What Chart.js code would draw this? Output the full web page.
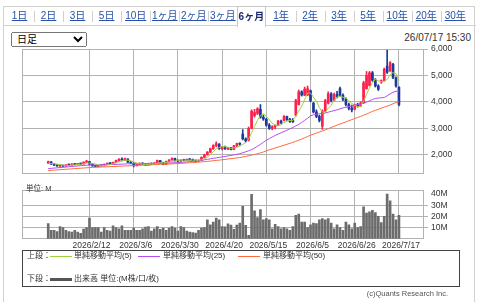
<!DOCTYPE html>
<html>
<head>
<meta charset="utf-8">
<script src="https://cdn.jsdelivr.net/npm/chart.js@4"></script>
<style>
body{margin:0;width:480px;height:302px;overflow:hidden;background:#fff;position:relative;
  font-family:"Liberation Sans",Arial,"Noto Sans CJK JP",sans-serif;color:#333}
.abs{position:absolute}
#frame{left:3px;top:6px;width:472px;height:310px;border:1px solid #d2d2d2;box-sizing:border-box}
#tabbar{left:3px;top:6px;width:473px;height:20px;border-bottom:1px solid #d2d2d2;box-sizing:border-box}
.tab{top:6px;height:20px;line-height:20px;text-align:center;font-size:10px;color:#2850a8;text-decoration:underline}
.tab.on{background:#fff;border:1px solid #c8c8c8;border-bottom:none;box-sizing:border-box;height:21px;
  font-weight:bold;color:#1a2a70;text-decoration:none;line-height:19px}
.sep{top:11px;width:1px;height:11px;background:#d0d0d0}
#sel{left:11px;top:32px;width:76px;height:15px;font-size:10px;padding:0 0 0 1px;margin:0;
  font-family:"Liberation Sans","Noto Sans CJK JP",sans-serif}
#stamp{right:9px;top:32px;font-size:10px;color:#333}
canvas{position:absolute;left:0}
#price{top:40px}
#vol{top:182px}
#unit{left:26px;top:184px;font-size:7.5px;color:#333;line-height:10px}
#legend{left:22px;top:250px;width:438px;height:37px;border:1px solid #444;box-sizing:border-box}
.lt{font-size:8px;line-height:10px;color:#333;white-space:nowrap}
.ll{height:1px}
#copy{right:32px;top:289px;font-size:7.5px;color:#555}
</style>
</head>
<body>
<div id="frame" class="abs"></div>
<div id="tabbar" class="abs"></div>
<select id="sel" class="abs"><option>日足</option></select>
<div id="stamp" class="abs">26/07/17 15:30</div>
<canvas id="price" width="480" height="142"></canvas>
<canvas id="vol" width="480" height="72"></canvas>
<div id="unit" class="abs">単位: M</div>
<div id="legend" class="abs"></div>
<div class="abs lt" style="left:27px;top:251px">上段：</div>
<div class="abs ll" style="left:50px;top:256px;width:22px;background:#9fd13b"></div>
<div class="abs lt" style="left:74px;top:251px">単純移動平均(5)</div>
<div class="abs ll" style="left:138px;top:256px;width:22px;background:#b44cf2"></div>
<div class="abs lt" style="left:163px;top:251px">単純移動平均(25)</div>
<div class="abs ll" style="left:238px;top:256px;width:22px;background:#ff6a3c"></div>
<div class="abs lt" style="left:263px;top:251px">単純移動平均(50)</div>
<div class="abs lt" style="left:27px;top:274px">下段：</div>
<div class="abs" style="left:50px;top:278px;width:22px;height:3px;background:#555"></div>
<div class="abs lt" style="left:74px;top:274px">出来高 単位:(M株/口/枚)</div>
<div id="copy" class="abs">(c)Quants Research Inc.</div>
<script>
// period tabs
var tabNames = ['1日','2日','3日','5日','10日','1ヶ月','2ヶ月','3ヶ月','6ヶ月','1年','2年','3年','5年','10年','20年','30年'];
var activeTab = 8;

// daily candles, oldest first (last = 2026/7/17)
var opens = [1690,1730,1650,1610,1580,1600,1570,1620,1610,1650,
  1630,1660,1650,1720,1740,1640,1580,1560,1590,1580,
  1640,1680,1660,1710,1780,1830,1800,1840,1720,1680,
  1590,1620,1680,1640,1610,1670,1640,1690,1780,1700,
  1640,1740,1800,1860,1780,1760,1800,1790,1820,1810,
  1780,1760,1790,1900,2000,2100,2230,2350,2400,2230,
  2290,2220,2260,2200,2340,2420,2780,2600,2550,3000,
  3480,3560,3720,3420,3340,3120,3000,3060,3120,3270,
  3300,3440,3340,3300,3500,3900,4380,4250,4260,4420,
  3950,3620,3450,3080,3650,3950,4300,4060,4280,4500,
  4250,4100,3900,3760,3720,3880,3850,3960,4500,4620,
  5100,4820,4600,4750,4800,5350,5170,5420,4900,4550];
var highs = [1760,1740,1670,1640,1620,1610,1630,1650,1660,1660,
  1670,1680,1730,1790,1750,1660,1600,1600,1620,1650,
  1690,1700,1720,1800,1850,1880,1870,1850,1740,1700,
  1640,1690,1700,1660,1680,1690,1700,1800,1790,1720,
  1760,1820,1880,1870,1800,1810,1830,1840,1850,1840,
  1800,1800,1920,2020,2120,2250,2380,2490,2420,2310,
  2330,2280,2280,2360,2440,2450,2950,2640,3050,3700,
  3720,3780,3900,3500,3380,3180,3100,3120,3300,3310,
  3480,3460,3380,3370,4100,4450,4420,4560,4600,4450,
  3980,3700,3500,3700,4100,4380,4350,4330,4400,4560,
  4300,4150,3950,3880,3920,3950,4000,4780,5150,5150,
  5150,4880,4650,4830,5280,5960,5520,5460,4950,4580];
var lows = [1660,1630,1590,1560,1550,1550,1560,1600,1600,1610,
  1620,1630,1640,1700,1620,1560,1540,1540,1570,1570,
  1630,1640,1650,1700,1760,1790,1780,1700,1660,1540,
  1570,1610,1620,1590,1600,1620,1630,1680,1680,1620,
  1630,1720,1790,1760,1740,1750,1770,1780,1790,1760,
  1730,1740,1780,1880,1980,2080,2200,2300,2200,2180,
  2200,2190,2180,2190,2300,2360,2560,2480,2520,2980,
  3420,3520,3380,3300,3080,2960,2940,2980,3100,3180,
  3280,3300,3220,3220,3460,3880,4220,4230,4230,4000,
  3580,3400,3240,2960,3620,3920,4000,4040,4150,4200,
  4050,3850,3700,3620,3700,3800,3820,3940,4480,4600,
  4780,4560,4430,4700,4780,5080,5150,4880,4560,3850];
var closes = [1740,1650,1610,1580,1600,1570,1620,1610,1650,1630,
  1660,1650,1720,1760,1640,1580,1560,1590,1580,1640,
  1680,1660,1710,1780,1830,1800,1850,1720,1680,1590,
  1620,1680,1640,1610,1670,1640,1690,1780,1700,1640,
  1740,1800,1860,1780,1760,1800,1790,1820,1810,1780,
  1760,1790,1900,2000,2100,2230,2350,2420,2230,2290,
  2220,2260,2200,2340,2420,2400,2600,2520,3000,3650,
  3600,3740,3420,3350,3120,3000,3060,3100,3270,3200,
  3450,3330,3260,3240,4050,4380,4260,4480,4500,4050,
  3620,3450,3300,3650,4050,4300,4050,4280,4200,4250,
  4100,3900,3760,3700,3880,3850,3960,4720,5000,5100,
  4820,4600,4480,4800,5230,5120,5480,4920,4600,3900];

// moving averages as drawn
var ma5 = [1680,1670,1660,1640,1636,1602,1596,1596,1610,1616,
  1634,1640,1662,1684,1686,1670,1652,1626,1590,1590,
  1610,1630,1654,1694,1732,1756,1794,1796,1776,1728,
  1692,1658,1642,1628,1644,1648,1650,1678,1696,1690,
  1710,1732,1748,1764,1788,1800,1798,1790,1796,1800,
  1792,1792,1808,1846,1910,2004,2116,2220,2266,2304,
  2302,2284,2240,2262,2288,2324,2392,2456,2588,2834,
  3074,3302,3482,3552,3446,3326,3190,3126,3110,3126,
  3216,3270,3302,3296,3466,3652,3838,4082,4334,4334,
  4182,4020,3784,3614,3614,3750,3870,4066,4176,4216,
  4176,4146,4042,3942,3868,3818,3830,4022,4282,4526,
  4720,4848,4800,4760,4786,4846,5022,5110,5070,4804];
var ma25 = [1475,1485,1495,1505,1515,1525,1535,1545,1555,1565,
  1575,1585,1595,1600,1610,1612,1615,1618,1620,1622,
  1625,1628,1632,1636,1640,1645,1650,1655,1658,1660,
  1662,1664,1666,1668,1670,1672,1674,1676,1678,1682,
  1685,1688,1692,1696,1700,1710,1720,1730,1742,1754,
  1766,1778,1790,1808,1826,1845,1864,1882,1900,1918,
  1936,1955,1975,1995,2015,2040,2075,2110,2150,2195,
  2250,2320,2390,2470,2550,2610,2670,2730,2780,2830,
  2880,2930,2980,3030,3090,3150,3220,3300,3380,3470,
  3510,3530,3550,3565,3580,3610,3640,3670,3700,3735,
  3770,3795,3820,3845,3870,3890,3920,3955,3990,4040,
  4090,4130,4145,4155,4165,4230,4300,4360,4400,4410];
var ma50 = [1400,1410,1418,1426,1434,1442,1450,1458,1466,1474,
  1482,1490,1498,1506,1514,1520,1525,1530,1535,1540,
  1545,1550,1555,1560,1565,1570,1575,1580,1585,1590,
  1595,1600,1605,1610,1615,1620,1625,1630,1635,1640,
  1645,1650,1655,1660,1665,1672,1680,1688,1696,1704,
  1712,1720,1730,1740,1750,1760,1772,1784,1796,1810,
  1824,1838,1852,1866,1880,1895,1915,1935,1960,1985,
  2010,2040,2070,2105,2150,2185,2220,2255,2290,2325,
  2360,2395,2430,2470,2510,2550,2590,2640,2690,2740,
  2780,2820,2860,2900,2940,2985,3030,3075,3120,3160,
  3200,3240,3285,3330,3370,3410,3450,3495,3540,3590,
  3640,3680,3720,3760,3800,3840,3880,3930,3970,4010];

// volume, millions
var volumes = [13.5,7.5,7.5,6.5,11,10,7.5,6.5,6,7.5,
  6,4.8,8.6,10,18.5,10,10,10,6,10,
  7.5,7,11.6,10,9,11.6,7.5,7.5,7.5,9.6,
  7.5,7.5,9,10.5,11,7,9,11,8.5,9.6,
  7.5,9.6,11,9.6,7,11,10,7,6,5.5,
  5,7.5,9.6,10,17,12.5,15,18.5,17,11,
  10.8,13.4,12.3,8.5,12.3,14,29,12,3,39.7,
  25,19,26,17,18,17,9,13,11,9,
  10,9,7.5,11,21,22,15,15,10,12.5,
  14,13.5,17,18,17,18,14,9,12.5,10,
  7.5,15,12.5,9,14,10,11,28.5,23,24,
  25.5,23.5,20,14.5,20,40,34,22,17,21];

// axes
var tickIdx = [14,29,44,59,74,89,104,119];
var tickLabels = ['2026/2/12','2026/3/6','2026/3/30','2026/4/20','2026/5/15','2026/6/5','2026/6/26','2026/7/17'];
var priceTicks = [2000,3000,4000,5000,6000];
var volTicks = [10,20,30,40];

// build tabs
tabNames.forEach(function (name, k) {
    var left = 5 + k * 29.05;
    var d = document.createElement('div');
    d.className = 'abs tab' + (k === activeTab ? ' on' : '');
    d.style.left = (k === activeTab ? left - 0.5 : left) + 'px';
    d.style.width = '29px';
    d.textContent = name;
    document.body.appendChild(d);
    if (k > 0 && k !== activeTab && k !== activeTab + 1) {
        var s = document.createElement('div');
        s.className = 'abs sep';
        s.style.left = Math.round(left) + 'px';
        document.body.appendChild(s);
    }
});

var FONT = '"Liberation Sans", "Noto Sans CJK JP", sans-serif';
var RED = '#ff1e4e', BLUE = '#1d3b96', GRID = '#b2b2b2';
var idx = closes.map(function (c, i) { return i; });
var candleColor = idx.map(function (i) { return closes[i] >= opens[i] ? RED : BLUE; });

var framePlugin = {
    id: 'frame',
    beforeDatasetsDraw: function (chart) {
        var a = chart.chartArea, ctx = chart.ctx;
        ctx.save();
        ctx.strokeStyle = GRID;
        ctx.lineWidth = 1;
        ctx.strokeRect(Math.round(a.left) + 0.5, Math.round(a.top) + 0.5,
            Math.round(a.right - a.left) - 1, Math.round(a.bottom - a.top) - 1);
        ctx.restore();
    }
};

function xScale(showLabels) {
    return {
        type: 'linear', min: -8.9, max: 127.5, offset: false,
        grid: { color: GRID, offset: false, drawTicks: false },
        border: { display: false },
        afterBuildTicks: function (s) { s.ticks = tickIdx.map(function (v) { return { value: v }; }); },
        ticks: {
            display: showLabels, autoSkip: false, maxRotation: 0, padding: 2, labelOffset: 2,
            color: '#333', font: { family: FONT, size: 8.5 },
            callback: function (v) { return tickLabels[tickIdx.indexOf(v)]; }
        }
    };
}

new Chart(document.getElementById('price'), {
    type: 'bar',
    data: {
        datasets: [
            { type: 'line', data: idx.map(function (i) { return { x: i, y: ma5[i] }; }),
              borderColor: '#9fd13b', borderWidth: 1, pointRadius: 0, order: 0 },
            { type: 'line', data: idx.map(function (i) { return { x: i, y: ma25[i] }; }),
              borderColor: '#b44cf2', borderWidth: 1, pointRadius: 0, order: 0 },
            { type: 'line', data: idx.map(function (i) { return { x: i, y: ma50[i] }; }),
              borderColor: '#ff6a3c', borderWidth: 1, pointRadius: 0, order: 0 },
            { data: idx.map(function (i) { return { x: i, y: [lows[i], highs[i]] }; }),
              backgroundColor: candleColor, barThickness: 1, grouped: false, order: 2 },
            { data: idx.map(function (i) { return { x: i, y: [opens[i], closes[i]] }; }),
              backgroundColor: candleColor, barThickness: 2, minBarLength: 1, grouped: false, order: 1 }
        ]
    },
    options: {
        responsive: false, animation: false,
        layout: { padding: { left: 22, top: 9, right: 0, bottom: 4 } },
        plugins: { legend: { display: false }, tooltip: { enabled: false } },
        scales: {
            x: xScale(false),
            y: {
                position: 'right', min: 1275, max: 6000,
                grid: { color: GRID, tickLength: 4 },
                border: { display: false },
                afterBuildTicks: function (s) { s.ticks = priceTicks.map(function (v) { return { value: v }; }); },
                afterFit: function (s) { s.width = 56; },
                ticks: { padding: 3, color: '#333', font: { family: FONT, size: 8.5 } }
            }
        }
    },
    plugins: [framePlugin]
});

new Chart(document.getElementById('vol'), {
    type: 'bar',
    data: {
        datasets: [
            { data: idx.map(function (i) { return { x: i, y: volumes[i] }; }),
              backgroundColor: '#6c6c6c', barThickness: 2, grouped: false }
        ]
    },
    options: {
        responsive: false, animation: false,
        layout: { padding: { left: 22, top: 4, right: 0, bottom: 1 } },
        plugins: { legend: { display: false }, tooltip: { enabled: false } },
        scales: {
            x: xScale(true),
            y: {
                position: 'right', min: 0, max: 43.5,
                grid: { color: function (c) { return c.tick && c.tick.value === 40 ? 'rgba(0,0,0,0)' : GRID; }, tickLength: 4 },
                border: { display: false },
                afterBuildTicks: function (s) { s.ticks = volTicks.map(function (v) { return { value: v }; }); },
                afterFit: function (s) { s.width = 56; },
                ticks: { padding: 3, color: '#333', font: { family: FONT, size: 8.5 },
                         callback: function (v) { return v + 'M'; } }
            }
        }
    },
    plugins: [framePlugin]
});
</script>
</body>
</html>
